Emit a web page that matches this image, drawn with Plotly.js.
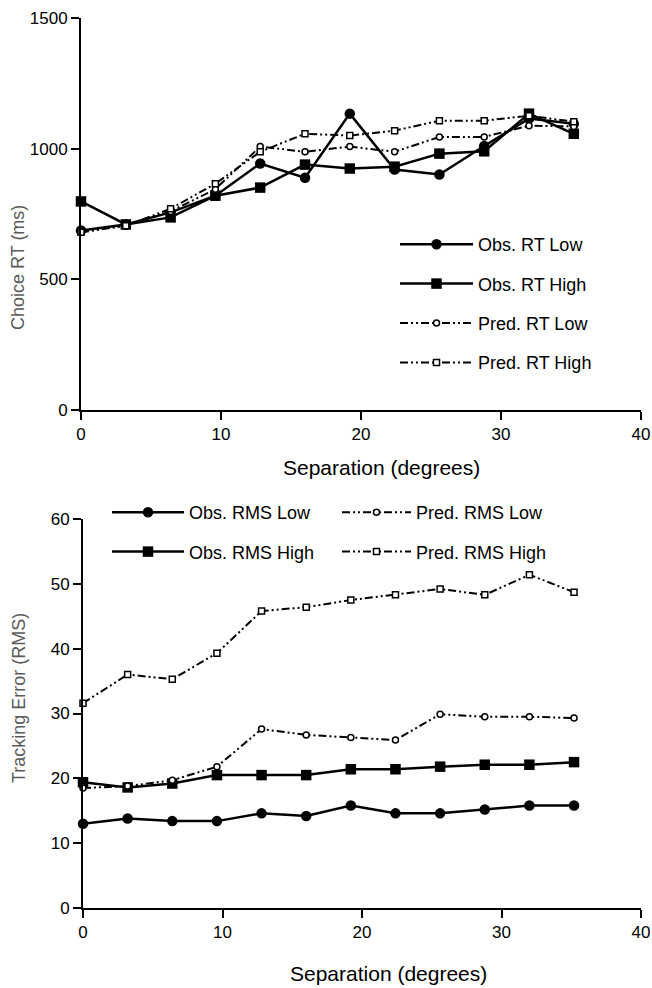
<!DOCTYPE html>
<html>
<head>
<meta charset="utf-8">
<script src="https://cdn.plot.ly/plotly-3.0.1.min.js"></script>
<style>html,body{margin:0;padding:0;background:#fff;}#chart{width:652px;height:988px;}</style>
</head>
<body>
<div id="chart"></div>
<script>
// Separation (degrees)
const separation = [0, 3.2, 6.4, 9.6, 12.8, 16, 19.2, 22.4, 25.6, 28.8, 32, 35.2];

// Top panel: Choice RT (ms)
const obsRTLow   = [687, 710, 756, 820, 943, 889, 1134, 920, 901, 1010, 1115, 1095];
const obsRTHigh  = [798, 710, 737, 820, 851, 939, 924, 931, 981, 990, 1134, 1057];
const predRTLow  = [685, 705, 760, 845, 1008, 988, 1008, 988, 1045, 1045, 1088, 1085];
const predRTHigh = [680, 705, 770, 866, 988, 1057, 1050, 1069, 1107, 1107, 1126, 1103];

// Bottom panel: Tracking Error (RMS)
const obsRMSLow   = [13.0, 13.8, 13.4, 13.4, 14.6, 14.2, 15.8, 14.6, 14.6, 15.2, 15.8, 15.8];
const obsRMSHigh  = [19.4, 18.6, 19.2, 20.5, 20.5, 20.5, 21.4, 21.4, 21.8, 22.1, 22.1, 22.5];
const predRMSLow  = [18.5, 18.8, 19.7, 21.8, 27.6, 26.7, 26.3, 25.9, 29.9, 29.5, 29.5, 29.3];
const predRMSHigh = [31.6, 36.0, 35.3, 39.3, 45.8, 46.4, 47.5, 48.3, 49.2, 48.3, 51.4, 48.7];

// Labels
const namesTop = ["Obs. RT Low", "Obs. RT High", "Pred. RT Low", "Pred. RT High"];
const namesBottom = ["Obs. RMS Low", "Obs. RMS High", "Pred. RMS Low", "Pred. RMS High"];
const xTitle = "Separation (degrees)";
const yTitleTop = "Choice RT (ms)";
const yTitleBottom = "Tracking Error (RMS)";

const FONT = "Liberation Sans, Arial, Helvetica, sans-serif";
const predDash = "8px,3px,2px,3px,2px,3px";

function obsTrace(y, name, symbol, xa, ya, legend, grp) {
  return {
    x: separation, y: y, name: name, type: "scatter", mode: "lines+markers",
    xaxis: xa, yaxis: ya, legend: legend, legendgroup: grp, cliponaxis: false,
    line: {color: "#000", width: 2.5},
    marker: {symbol: symbol, size: 10.5, color: "#000", line: {color: "#000", width: 0}}
  };
}
function predTrace(y, name, symbol, xa, ya, legend, grp) {
  return {
    x: separation, y: y, name: name, type: "scatter", mode: "lines+markers",
    xaxis: xa, yaxis: ya, legend: legend, legendgroup: grp, cliponaxis: false,
    line: {color: "#000", width: 2, dash: predDash},
    marker: {symbol: symbol, size: 6, color: "#fff", line: {color: "#000", width: 1.5}}
  };
}

const data = [
  obsTrace(obsRTLow, namesTop[0], "circle", "x", "y", "legend", "a"),
  obsTrace(obsRTHigh, namesTop[1], "square", "x", "y", "legend", "b"),
  predTrace(predRTLow, namesTop[2], "circle", "x", "y", "legend", "c"),
  predTrace(predRTHigh, namesTop[3], "square", "x", "y", "legend", "d"),
  obsTrace(obsRMSLow, namesBottom[0], "circle", "x2", "y2", "legend2", "e"),
  obsTrace(obsRMSHigh, namesBottom[1], "square", "x2", "y2", "legend2", "f"),
  predTrace(predRMSLow, namesBottom[2], "circle", "x2", "y2", "legend3", "g"),
  predTrace(predRMSHigh, namesBottom[3], "square", "x2", "y2", "legend3", "h")
];

const W = 652, H = 988;
const px = v => v / W;
const py = v => (H - v) / H;

function axis(domain, range, dtick, anchor) {
  return {
    domain: domain, range: range, dtick: dtick, tick0: 0, anchor: anchor,
    showline: true, linecolor: "#000", linewidth: 2,
    ticks: "outside", ticklen: 8, tickwidth: 2, tickcolor: "#000",
    showgrid: false, zeroline: false, fixedrange: true,
    ticklabeloverflow: "allow",
    tickfont: {family: FONT, size: 17, color: "#000"}
  };
}

const legendBase = {
  font: {family: FONT, size: 18, color: "#000"},
  bgcolor: "rgba(0,0,0,0)", borderwidth: 0,
  traceorder: "grouped", tracegroupgap: 13,
  xanchor: "left", yanchor: "top"
};

const layout = {
  width: W, height: H,
  margin: {l: 0, r: 0, t: 0, b: 0},
  paper_bgcolor: "#fff", plot_bgcolor: "#fff",
  font: {family: FONT, color: "#000"},
  showlegend: true,
  xaxis: axis([px(81), px(641)], [0, 40], 10, "y"),
  yaxis: axis([py(410), py(18)], [0, 1500], 500, "x"),
  xaxis2: axis([px(83), px(641)], [0, 40], 10, "y2"),
  yaxis2: axis([py(908), py(519)], [0, 60], 10, "x2"),
  legend: Object.assign({}, legendBase, {x: px(395), y: py(226), itemwidth: 73}),
  legend2: Object.assign({}, legendBase, {x: px(107), y: py(494), itemwidth: 72}),
  legend3: Object.assign({}, legendBase, {x: px(337), y: py(494), itemwidth: 69}),
  annotations: [
    {text: xTitle, xref: "paper", yref: "paper", x: px(381), y: py(467), showarrow: false,
     xanchor: "center", yanchor: "middle", font: {family: FONT, size: 21, color: "#000"}},
    {text: xTitle, xref: "paper", yref: "paper", x: px(388), y: py(973), showarrow: false,
     xanchor: "center", yanchor: "middle", font: {family: FONT, size: 21, color: "#000"}},
    {text: yTitleTop, xref: "paper", yref: "paper", x: px(18), y: py(268), showarrow: false,
     textangle: -90, xanchor: "center", yanchor: "middle", font: {family: FONT, size: 18, color: "#5a5a5a"}},
    {text: yTitleBottom, xref: "paper", yref: "paper", x: px(19), y: py(698), showarrow: false,
     textangle: -90, xanchor: "center", yanchor: "middle", font: {family: FONT, size: 18, color: "#5a5a5a"}}
  ]
};

Plotly.newPlot("chart", data, layout, {displayModeBar: false, staticPlot: true});
</script>
</body>
</html>
